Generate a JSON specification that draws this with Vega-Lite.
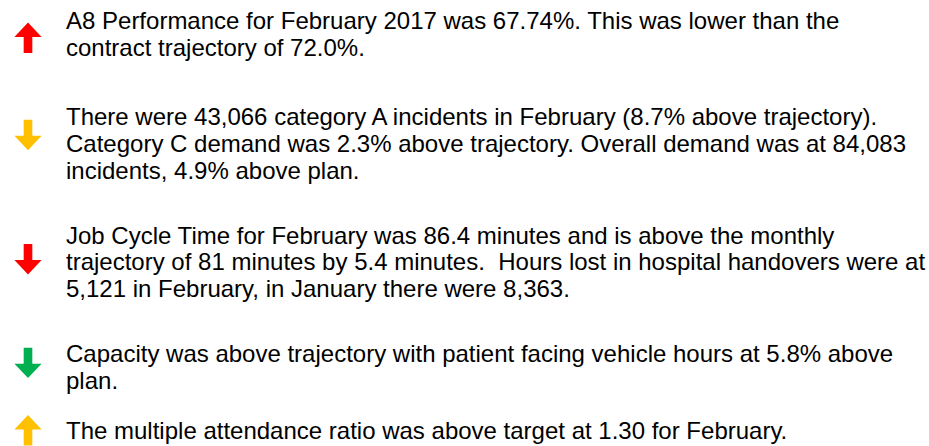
{
  "$schema": "https://vega.github.io/schema/vega-lite/v6.json",
  "width": 929,
  "height": 446,
  "autosize": {"type": "fit", "contains": "padding"},
  "padding": 0,
  "background": "white",
  "config": {"view": {"stroke": null}},
  "datasets": {
    "lines": [
      {"x": 66, "y": 29, "text": "A8 Performance for February 2017 was 67.74%. This was lower than the"},
      {"x": 66, "y": 57, "text": "contract trajectory of 72.0%."},
      {"x": 66, "y": 127, "text": "There were 43,066 category A incidents in February (8.7% above trajectory)."},
      {"x": 66, "y": 154, "text": "Category C demand was 2.3% above trajectory. Overall demand was at 84,083"},
      {"x": 66, "y": 181, "text": "incidents, 4.9% above plan."},
      {"x": 66, "y": 247, "text": "Job Cycle Time for February was 86.4 minutes and is above the monthly"},
      {"x": 66, "y": 274, "text": "trajectory of 81 minutes by 5.4 minutes.\u00a0 Hours lost in hospital handovers were at"},
      {"x": 66, "y": 301, "text": "5,121 in February, in January there were 8,363."},
      {"x": 66, "y": 367, "text": "Capacity was above trajectory with patient facing vehicle hours at 5.8% above"},
      {"x": 66, "y": 394, "text": "plan."},
      {"x": 66, "y": 445, "text": "The multiple attendance ratio was above target at 1.30 for February."}
    ],
    "arrows": [
      {"x": 28, "y": 39, "dir": "up", "status": "red"},
      {"x": 28, "y": 136, "dir": "down", "status": "amber"},
      {"x": 28, "y": 262, "dir": "down", "status": "red"},
      {"x": 28, "y": 367, "dir": "down", "status": "green"},
      {"x": 28, "y": 437, "dir": "up", "status": "amber"}
    ]
  },
  "layer": [
    {
      "data": {"name": "lines"},
      "mark": {"type": "text", "align": "left", "baseline": "alphabetic", "font": "Liberation Sans", "fontSize": 24, "color": "#000000"},
      "encoding": {
        "x": {"field": "x", "type": "quantitative", "scale": {"domain": [0, 929]}, "axis": null},
        "y": {"field": "y", "type": "quantitative", "scale": {"domain": [0, 446], "reverse": true}, "axis": null},
        "text": {"field": "text"}
      }
    },
    {
      "data": {"name": "arrows"},
      "transform": [{"filter": "datum.dir === 'up'"}],
      "mark": {"type": "point", "filled": true, "opacity": 1, "size": 1024, "shape": "M0,-1L0.85,-0.1L0.27,-0.1L0.27,0.9L-0.27,0.9L-0.27,-0.1L-0.85,-0.1Z"},
      "encoding": {
        "x": {"field": "x", "type": "quantitative", "scale": {"domain": [0, 929]}, "axis": null},
        "y": {"field": "y", "type": "quantitative", "scale": {"domain": [0, 446], "reverse": true}, "axis": null},
        "color": {"field": "status", "type": "nominal", "scale": {"domain": ["red", "amber", "green"], "range": ["#FF0000", "#FFC000", "#00B050"]}, "legend": null}
      }
    },
    {
      "data": {"name": "arrows"},
      "transform": [{"filter": "datum.dir === 'down'"}],
      "mark": {"type": "point", "filled": true, "opacity": 1, "size": 1024, "shape": "M0,1L0.85,0.1L0.27,0.1L0.27,-0.9L-0.27,-0.9L-0.27,0.1L-0.85,0.1Z"},
      "encoding": {
        "x": {"field": "x", "type": "quantitative", "scale": {"domain": [0, 929]}, "axis": null},
        "y": {"field": "y", "type": "quantitative", "scale": {"domain": [0, 446], "reverse": true}, "axis": null},
        "color": {"field": "status", "type": "nominal", "scale": {"domain": ["red", "amber", "green"], "range": ["#FF0000", "#FFC000", "#00B050"]}, "legend": null}
      }
    }
  ]
}
